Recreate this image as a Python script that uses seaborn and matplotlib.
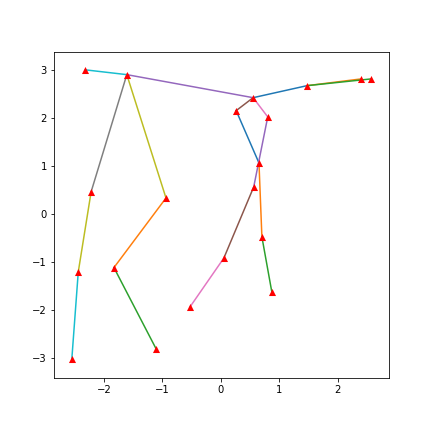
import pandas as pd
import seaborn as sns
import matplotlib.pyplot as plt

# joint coordinates
joint_x = [-2.32, -1.61, 0.55, 1.47, 2.39, 2.56, 0.26, 0.80, 0.65, 0.56,
           -2.22, -0.94, -2.44, -1.83, 0.70, 0.05, -0.53, 0.87, -1.11, -2.55]
joint_y = [3.00, 2.90, 2.42, 2.67, 2.81, 2.81, 2.15, 2.02, 1.06, 0.56,
           0.46, 0.33, -1.21, -1.12, -0.48, -0.92, -1.94, -1.63, -2.81, -3.02]

# bones: pairs of joint numbers (1-based)
bone_start = [3, 4, 4, 2, 3, 3, 2, 2, 1, 7, 9, 15, 8, 10, 16, 11, 13, 12, 14]
bone_end = [4, 5, 6, 3, 7, 8, 11, 12, 2, 9, 15, 18, 10, 16, 17, 13, 20, 14, 19]

# tab10 slot used by each bone
bone_color = [0, 1, 2, 4, 5, 6, 7, 8, 9, 0, 1, 2, 4, 5, 6, 8, 9, 1, 2]

joints = pd.DataFrame({'x': joint_x, 'y': joint_y})
palette = sns.color_palette('tab10')

fig = plt.figure(figsize=(6, 6), dpi=72)
ax = fig.add_axes([0.125, 0.125, 0.775, 0.755])

for s, e, c in zip(bone_start, bone_end, bone_color):
    seg = joints.iloc[[s - 1, e - 1]]
    sns.lineplot(data=seg, x='x', y='y', sort=False, color=palette[c],
                 linewidth=1.5, ax=ax)

sns.scatterplot(data=joints, x='x', y='y', marker='^', color='red',
                s=50, linewidth=0, zorder=3, ax=ax)

ax.set_xlim(-2.855, 2.87)
ax.set_ylim(-3.42, 3.375)
ax.set_xlabel('')
ax.set_ylabel('')

fig.savefig('out.png', dpi=72)
